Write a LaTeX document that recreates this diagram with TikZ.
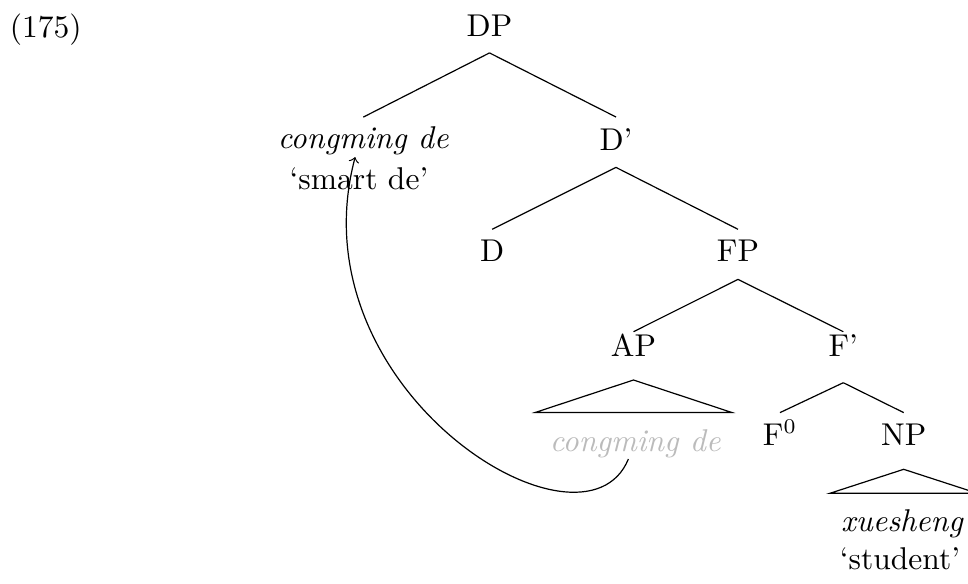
\documentclass[tikz,border=0pt]{standalone}
\usepackage{tikz}
\definecolor{traceGray}{HTML}{BBBBBB}

\begin{document}
\begin{tikzpicture}[x=0.3333pt, y=-0.3333pt,
  font=\fontsize{10.5}{12.6}\selectfont,
  cat/.style={anchor=base, inner sep=0pt},
  branch/.style={line width=0.4pt}]
  \useasboundingbox (0,0) rectangle (968,583);
  \node[cat] (ex) at (45.8,37) {(175)};
  % tree nodes
  \node[cat] (dp) at (489.5,36.7) {DP};
  \node[cat] (cmgtop) at (363.3,148) {\textit{congming de}};
  \node[cat] (gloss) at (359,189) {`smart de'};
  \node[cat] (dbar) at (616,150) {D'};
  \node[cat] (d) at (492.2,261.7) {D};
  \node[cat] (fp) at (738,261.7) {FP};
  \node[cat] (ap) at (633.5,356) {AP};
  \node[cat] (fbar) at (843.3,356) {F'};
  \node[cat, text=traceGray] (cmglow) at (635.3,451.5) {\textit{congming de}};
  \node[cat] (f0) at (780,445) {F$^0$};
  \node[cat] (np) at (903.7,445) {NP};
  \node[cat] (xs) at (902.5,531.7) {\textit{xuesheng}};
  \node[cat] (stu) at (900,569.3) {`student'};
  % branches
  \draw[branch] ([yshift=-5.4pt]dp.base) -- ([yshift=10.3pt]cmgtop.base);
  \draw[branch] ([yshift=-5.4pt]dp.base) -- ([yshift=11pt]dbar.base);
  \draw[branch] ([yshift=-5.8pt]dbar.base) -- ([yshift=10.8pt]d.base);
  \draw[branch] ([yshift=-5.8pt]dbar.base) -- ([yshift=10.8pt]fp.base);
  \draw[branch] ([yshift=-5.9pt]fp.base) -- ([yshift=8.1pt]ap.base);
  \draw[branch] ([yshift=-5.9pt]fp.base) -- ([yshift=8.1pt]fbar.base);
  \draw[branch] ([yshift=-8.9pt]fbar.base) -- ([yshift=10.8pt]f0.base);
  \draw[branch] ([yshift=-8.9pt]fbar.base) -- ([yshift=10.8pt]np.base);
  % triangles
  \draw[branch] ([yshift=-8pt]ap.base) -- ([xshift=-32.7pt,yshift=-18.8pt]ap.base)
    -- ([xshift=32.7pt,yshift=-18.8pt]ap.base) -- cycle;
  \draw[branch] ([yshift=-8.1pt]np.base) -- ([xshift=-24.6pt,yshift=-16.1pt]np.base)
    -- ([xshift=24.6pt,yshift=-16.1pt]np.base) -- cycle;
  % movement
  \draw[branch, ->] ([xshift=-2.3pt,yshift=-2.5pt]cmglow.base)
    .. controls +(-45,110) and +(-62,233) .. ([xshift=-2.7pt,yshift=-3pt]cmgtop.base);
\end{tikzpicture}
\end{document}
